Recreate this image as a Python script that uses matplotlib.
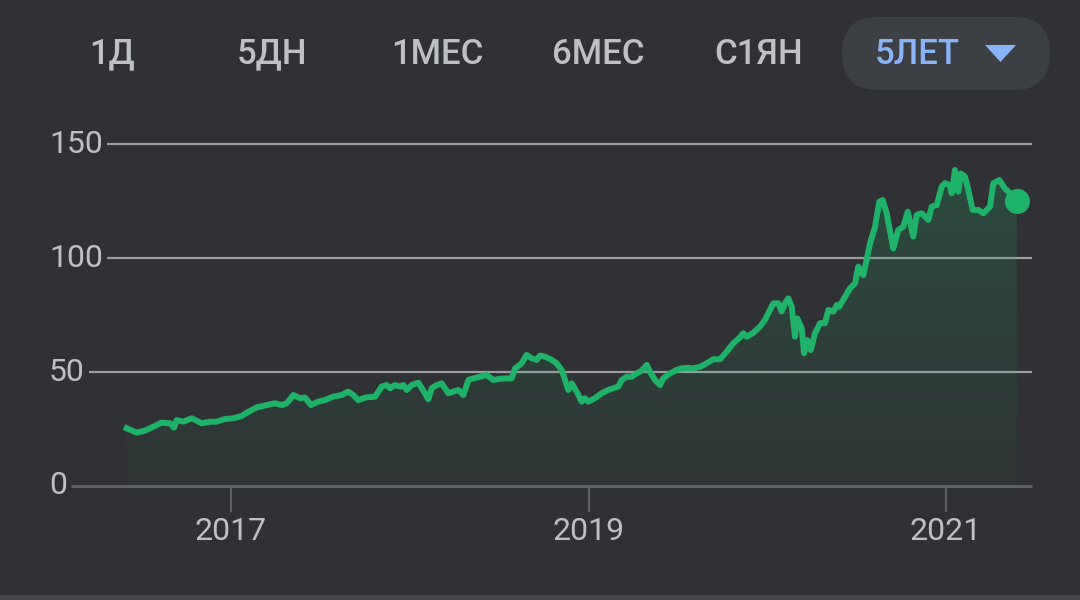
import numpy as np
import matplotlib
matplotlib.use("Agg")
import matplotlib.pyplot as plt
from matplotlib.patches import FancyBboxPatch, Polygon
from matplotlib.transforms import blended_transform_factory

plt.rcParams["font.family"] = ["Roboto", "DejaVu Sans"]

# price history (decimal year, value)
years = [
    2016.417, 2016.472, 2016.519, 2016.565, 2016.612, 2016.659, 2016.681, 2016.696,
    2016.733, 2016.780, 2016.836, 2016.883, 2016.920, 2016.966, 2017.013, 2017.060,
    2017.088, 2017.144, 2017.200, 2017.246, 2017.284, 2017.312, 2017.349, 2017.386,
    2017.414, 2017.448, 2017.488, 2017.526, 2017.572, 2017.619, 2017.656, 2017.684,
    2017.712, 2017.759, 2017.806, 2017.843, 2017.871, 2017.890, 2017.917, 2017.945,
    2017.964, 2017.983, 2018.011, 2018.048, 2018.085, 2018.104, 2018.123, 2018.151,
    2018.179, 2018.216, 2018.244, 2018.272, 2018.300, 2018.328, 2018.356, 2018.393,
    2018.430, 2018.467, 2018.505, 2018.533, 2018.570, 2018.589, 2018.626, 2018.654,
    2018.682, 2018.710, 2018.729, 2018.757, 2018.794, 2018.822, 2018.850, 2018.869,
    2018.887, 2018.906, 2018.934, 2018.962, 2018.980, 2018.999, 2019.036, 2019.074,
    2019.111, 2019.139, 2019.167, 2019.186, 2019.214, 2019.242, 2019.270, 2019.298,
    2019.326, 2019.344, 2019.372, 2019.400, 2019.418, 2019.456, 2019.493, 2019.521,
    2019.549, 2019.586, 2019.624, 2019.661, 2019.698, 2019.736, 2019.773, 2019.810,
    2019.848, 2019.866, 2019.885, 2019.922, 2019.959, 2019.987, 2020.015, 2020.034,
    2020.062, 2020.081, 2020.099, 2020.118, 2020.137, 2020.155, 2020.168, 2020.193,
    2020.206, 2020.224, 2020.243, 2020.267, 2020.295, 2020.323, 2020.342, 2020.370,
    2020.389, 2020.403, 2020.435, 2020.463, 2020.491, 2020.509, 2020.537, 2020.556,
    2020.575, 2020.603, 2020.627, 2020.646, 2020.668, 2020.705, 2020.733, 2020.761,
    2020.786, 2020.817, 2020.836, 2020.864, 2020.901, 2020.920, 2020.948, 2020.976,
    2020.994, 2021.022, 2021.032, 2021.050, 2021.069, 2021.082, 2021.106, 2021.125,
    2021.149, 2021.181, 2021.209, 2021.246, 2021.265, 2021.298, 2021.330, 2021.358,
    2021.396,
]
prices = [
    25.3, 23.4, 24.3, 26.0, 27.8, 27.5, 25.6, 28.9,
    28.2, 29.7, 27.5, 28.2, 28.2, 29.4, 29.7, 30.7,
    32.1, 34.5, 35.5, 36.3, 35.5, 36.3, 39.9, 38.5,
    38.8, 35.5, 37.0, 37.7, 39.2, 39.9, 41.4, 39.9,
    37.7, 38.9, 39.2, 43.6, 44.3, 42.9, 44.3, 43.6,
    44.3, 42.1, 44.3, 45.3, 40.7, 38.0, 42.9, 44.3,
    45.0, 40.7, 41.4, 42.1, 39.9, 46.5, 47.2, 47.9,
    48.7, 46.5, 47.0, 47.2, 47.2, 51.6, 53.8, 57.5,
    56.0, 55.3, 57.2, 56.7, 55.3, 53.8, 50.9, 46.5,
    42.1, 45.0, 41.4, 37.0, 38.5, 37.0, 38.5, 40.7,
    42.1, 42.9, 43.6, 46.5, 47.9, 47.9, 49.4, 50.6,
    53.1, 50.1, 46.5, 44.3, 47.2, 49.4, 50.9, 51.6,
    51.8, 51.6, 52.3, 53.8, 55.6, 55.6, 58.9, 62.6,
    65.2, 67.0, 65.5, 67.2, 69.9, 72.8, 77.2, 80.1,
    80.1, 76.5, 80.1, 82.3, 78.6, 65.5, 73.5, 69.2,
    58.2, 64.0, 59.6, 67.0, 71.4, 71.4, 77.2, 76.5,
    79.4, 78.6, 83.0, 86.7, 88.9, 96.2, 92.5, 99.1,
    106.4, 113.7, 124.7, 125.4, 119.6, 104.2, 112.3, 113.7,
    120.3, 109.4, 118.9, 119.6, 116.7, 122.5, 123.2, 131.3,
    132.8, 132.0, 128.4, 138.6, 129.1, 137.1, 135.7, 129.8,
    121.1, 121.1, 119.6, 122.5, 132.8, 134.2, 130.5, 128.4,
    125.1,
]

y_ticks = [0, 50, 100, 150]
x_ticks = [2017, 2019, 2021]
x_tick_labels = ["2017", "2019", "2021"]
tabs = ["1Д", "5ДН", "1МЕС", "6МЕС", "С1ЯН", "5ЛЕТ"]
selected_tab = "5ЛЕТ"

BG = "#303134"
GREEN = "#1fb36a"
TEXT = "#bdc1c6"
BLUE = "#8ab4f8"
GRID = "#9a9ca0"
ZERO = "#5f6165"

W, H = 1080, 600
fig = plt.figure(figsize=(W / 100, H / 100), dpi=100)
fig.patch.set_facecolor(BG)

# main chart axes, placed in pixels
ax_l, ax_r, ax_t, ax_b = 40, 1040, 130, 500
ax = fig.add_axes([ax_l / W, 1 - ax_b / H, (ax_r - ax_l) / W, (ax_b - ax_t) / H])
ax.set_facecolor("none")
px_per_year = (946 - 231) / 4
ax.set_xlim(2017 - (231 - ax_l) / px_per_year, 2021 + (ax_r - 946) / px_per_year)
px_per_unit = (486 - 144) / 150
ax.set_ylim(-(ax_b - 486) / px_per_unit, (486 - ax_t) / px_per_unit)
for s in ax.spines.values():
    s.set_visible(False)
ax.spines["bottom"].set_position(("data", 0))
ax.set_yticks([])
ax.set_xticks(x_ticks)
ax.set_xticklabels(x_tick_labels, fontsize=23, color=TEXT)
ax.tick_params(axis="x", length=19, width=1.5, color=ZERO, pad=3)

# y labels + gridlines that start right after each label
blend = blended_transform_factory(fig.transFigure, ax.transData)
fig.canvas.draw()
renderer = fig.canvas.get_renderer()
for v in y_ticks:
    t = ax.text(49 / W, v, str(v), transform=blend, ha="left", va="center",
                fontsize=23, color=TEXT)
    bb = t.get_window_extent(renderer)
    x_start = (bb.x1 + 4) / W
    ax.plot([x_start, 1032 / W], [v, v], transform=blend, clip_on=False,
            color=ZERO if v == 0 else GRID, lw=2.2 if v == 0 else 1.6,
            solid_capstyle="butt", zorder=1)

# gradient fill under the line
xs = np.array(years)
ys = np.array(prices)
top = ys.max()
grad = np.linspace(0.03, 0.21, 256).reshape(-1, 1)
rgba = np.zeros((256, 1, 4))
rgba[..., :3] = matplotlib.colors.to_rgb(GREEN)
rgba[..., 3] = grad[:, 0:1]
im = ax.imshow(rgba, extent=[xs[0], xs[-1], 0, top], origin="lower",
               aspect="auto", zorder=2, interpolation="bilinear")
poly = Polygon(np.column_stack([np.r_[xs[0], xs, xs[-1]], np.r_[0, ys, 0]]),
               closed=True, transform=ax.transData, facecolor="none", edgecolor="none")
ax.add_patch(poly)
im.set_clip_path(poly)

ax.plot(xs, ys, color=GREEN, lw=4.3, solid_joinstyle="round", zorder=3)
ax.plot(xs[-1], ys[-1], "o", color=GREEN, markersize=17, zorder=4)

# overlay in pixel coordinates for the range selector
ov = fig.add_axes([0, 0, 1, 1])
ov.set_xlim(0, W)
ov.set_ylim(H, 0)
ov.axis("off")
ov.patch.set_alpha(0)

ov.add_patch(FancyBboxPatch((842, 17), 208, 73,
                            boxstyle="round,pad=0,rounding_size=36",
                            facecolor="#3c3f44", edgecolor="none"))
tab_centers = [112, 272, 437, 598, 759, 917]
for name, cx in zip(tabs, tab_centers):
    ov.text(cx, 54, name, ha="center", va="center", fontsize=25,
            fontweight="medium", color=BLUE if name == selected_tab else TEXT)
ov.add_patch(Polygon([[985, 45], [1016, 45], [1000.5, 62]], closed=True,
                     facecolor=BLUE, edgecolor="none"))
ov.add_patch(plt.Rectangle((0, 595), W, 5, facecolor="#46474b", edgecolor="none"))

fig.savefig("out.png", dpi=100, facecolor=BG)
